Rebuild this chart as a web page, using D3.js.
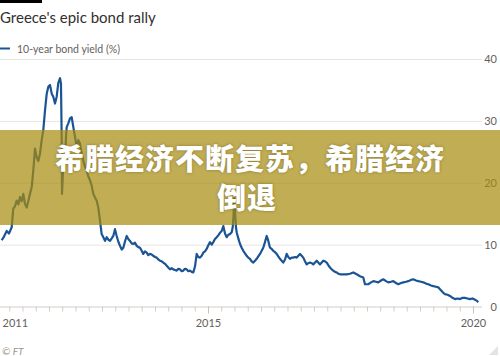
<!DOCTYPE html>
<html>
<head>
<meta charset="utf-8">
<script src="https://cdn.jsdelivr.net/npm/d3@7"></script>
<style>
  html, body { margin: 0; padding: 0; background: #fff; }
  svg { display: block; }
</style>
</head>
<body>
<svg id="chart" width="500" height="356"></svg>
<script>
// ---- data ----
const titleText = "Greece's epic bond rally";
const legendText = "10-year bond yield (%)";
const sourceText = "\u00A9 FT";
const bannerLines = ["希腊经济不断复苏，希腊经济", "倒退"];

const yTicks = [0, 10, 20, 30, 40];
const xLabelYears = [2011, 2015, 2020];

// decimal-year dates of the 10-year yield series
const dates = [
2011.108,2011.151,2011.202,2011.245,2011.296,2011.326,2011.358,2011.391,2011.421,2011.453,
2011.485,2011.515,2011.547,2011.579,2011.609,2011.641,2011.674,2011.704,2011.736,2011.768,
2011.798,2011.830,2011.862,2011.892,2011.925,2011.957,2011.987,2012.019,2012.051,2012.081,
2012.113,2012.145,2012.175,2012.208,2012.226,2012.240,2012.245,2012.258,2012.273,2012.302,
2012.321,2012.334,2012.364,2012.396,2012.428,2012.459,2012.491,2012.523,2012.553,2012.585,
2012.617,2012.647,2012.679,2012.711,2012.742,2012.774,2012.806,2012.836,2012.868,2012.900,
2012.930,2012.962,2012.994,2013.025,2013.057,2013.089,2013.119,2013.151,2013.183,2013.213,
2013.245,2013.277,2013.307,2013.340,2013.372,2013.402,2013.434,2013.466,2013.496,2013.528,
2013.560,2013.590,2013.623,2013.655,2013.685,2013.717,2013.749,2013.779,2013.811,2013.843,
2013.873,2013.906,2013.938,2013.968,2014.000,2014.032,2014.062,2014.094,2014.126,2014.157,
2014.189,2014.221,2014.251,2014.283,2014.315,2014.345,2014.377,2014.409,2014.440,2014.472,
2014.504,2014.534,2014.566,2014.598,2014.628,2014.660,2014.692,2014.723,2014.755,2014.787,
2014.817,2014.849,2014.881,2014.911,2014.943,2014.975,2015.006,2015.038,2015.070,2015.100,
2015.132,2015.164,2015.194,2015.226,2015.258,2015.289,2015.321,2015.353,2015.383,2015.415,
2015.447,2015.466,2015.481,2015.496,2015.509,2015.528,2015.541,2015.572,2015.604,2015.636,
2015.666,2015.698,2015.730,2015.760,2015.792,2015.824,2015.855,2015.887,2015.919,2015.949,
2015.981,2016.013,2016.043,2016.075,2016.107,2016.138,2016.170,2016.202,2016.232,2016.264,
2016.296,2016.326,2016.358,2016.390,2016.421,2016.453,2016.485,2016.515,2016.547,2016.579,
2016.609,2016.642,2016.674,2016.704,2016.736,2016.768,2016.798,2016.830,2016.862,2016.892,
2016.924,2016.957,2016.987,2017.019,2017.051,2017.081,2017.113,2017.145,2017.175,2017.207,
2017.240,2017.270,2017.302,2017.334,2017.364,2017.396,2017.428,2017.458,2017.491,2017.553,
2017.617,2017.679,2017.741,2017.806,2017.868,2017.930,2017.962,2018.024,2018.076,2018.119,
2018.170,2018.213,2018.264,2018.308,2018.359,2018.402,2018.453,2018.496,2018.547,2018.591,
2018.642,2018.685,2018.736,2018.781,2018.830,2018.874,2018.925,2018.968,2019.019,2019.062,
2019.113,2019.157,2019.208,2019.251,2019.302,2019.345,2019.377,2019.409,2019.440,2019.472,
2019.519,2019.566,2019.613,2019.660,2019.708,2019.755,2019.802,2019.849,2019.896,2019.943,
2019.991,2020.038,2020.075,2020.100
];
const yields = [
10.7,11.3,12.2,11.8,12.8,15.8,16.2,17.1,16.5,17.7,
17.0,18.2,16.6,16.0,17.0,18.2,19.3,22.0,25.5,24.1,
23.5,24.7,26.9,28.5,31.7,34.4,35.5,35.8,34.4,33.9,
32.8,33.9,36.1,36.9,36.0,26.9,18.2,20.7,23.6,23.1,
27.5,29.0,29.6,30.4,30.6,29.0,27.4,25.8,26.9,26.3,
24.7,23.6,22.6,22.0,21.0,20.4,19.5,18.2,17.6,17.1,
16.0,13.9,11.7,11.2,10.6,11.2,10.8,10.6,11.0,11.4,
12.5,11.4,10.5,9.8,9.2,9.5,10.5,11.4,10.9,10.6,
10.2,10.1,10.3,9.8,9.6,9.5,9.0,8.5,8.9,8.7,
8.3,8.5,8.4,8.2,8.0,7.9,7.6,7.4,7.3,7.1,
6.9,6.6,6.3,6.0,6.2,6.0,5.9,5.8,6.1,6.0,
5.7,5.8,6.1,6.0,5.7,5.8,5.6,5.5,6.5,8.5,
8.0,7.9,8.2,8.7,8.9,9.3,9.9,10.4,10.0,10.4,
10.9,11.2,11.5,11.9,12.2,13.0,11.8,11.2,11.6,11.7,
12.0,12.8,14.5,17.5,15.5,12.8,12.0,11.0,10.1,9.5,
9.0,8.6,8.2,7.9,7.7,7.3,7.1,7.4,7.7,8.1,
8.5,9.0,9.5,10.4,11.4,10.6,9.5,9.3,9.0,8.8,
8.5,8.1,7.7,7.4,7.1,7.6,8.5,8.0,7.7,7.9,
7.9,8.0,7.9,8.2,8.5,8.2,7.9,7.3,6.8,7.0,
7.1,7.0,6.8,7.1,7.4,7.1,6.8,7.1,7.4,7.3,
7.1,6.7,6.3,6.0,5.8,5.6,5.5,5.3,5.2,5.2,
5.2,5.3,5.5,5.2,4.9,4.7,3.6,3.6,3.9,4.1,
4.0,3.9,4.2,4.4,4.1,3.9,4.0,4.1,3.8,3.6,
3.8,3.9,4.0,4.1,4.3,4.4,4.2,4.1,4.0,3.9,
3.7,3.6,3.4,3.3,3.2,3.1,2.8,2.5,2.2,2.0,
1.9,1.7,1.4,1.2,1.3,1.2,1.4,1.4,1.3,1.2,
1.3,1.1,0.9,0.7
];

// ---- drawing ----
const svg = d3.select("#chart");
const W = 500, H = 356;
const plotRight = 482;

const x = d3.scaleLinear().domain([2011, 2020.17]).range([-4, plotRight]);
const y = d3.scaleLinear().domain([0, 40]).range([306.5, 59]);

const series = dates.map((d, i) => ({ t: d, v: yields[i] }));

// top black bar
svg.append("rect").attr("x", 0).attr("y", 0).attr("width", 42).attr("height", 3).attr("fill", "#000");

// title
svg.append("text")
  .attr("x", 0).attr("y", 23)
  .attr("font-family", "Lato, 'Open Sans', sans-serif")
  .attr("font-size", 15)
  .attr("fill", "#33302e")
  .text(titleText);

// legend
svg.append("line")
  .attr("x1", 0).attr("x2", 10).attr("y1", 48.5).attr("y2", 48.5)
  .attr("stroke", "#1a5494").attr("stroke-width", 2);
svg.append("text")
  .attr("x", 17).attr("y", 52.5)
  .attr("font-family", "Lato, 'Open Sans', sans-serif")
  .attr("font-size", 10.5)
  .attr("fill", "#66605c")
  .text(legendText);

// grid + right y labels
const yAxis = d3.axisRight(y).tickValues(yTicks).tickSize(plotRight).tickFormat(d3.format("d"));
const gy = svg.append("g").call(yAxis);
gy.select(".domain").remove();
gy.selectAll(".tick line").attr("stroke", "#e7e3df").attr("stroke-width", 1)
  .filter(d => d === 0).attr("stroke", "none");
gy.selectAll(".tick text")
  .attr("x", 497).attr("text-anchor", "end")
  .attr("font-family", "Lato, 'Open Sans', sans-serif")
  .attr("font-size", 11).attr("fill", "#66605c");

// x axis: quarterly minor ticks
const quarters = d3.range(2011, 2020.2, 0.25);
const xMinor = d3.axisBottom(x).tickValues(quarters).tickSize(5).tickFormat("");
const gxm = svg.append("g").attr("transform", "translate(0,306.5)").call(xMinor);
gxm.select(".domain").attr("stroke", "#d2ccc6").attr("d", `M0,0.5H${plotRight}`);
gxm.selectAll(".tick line").attr("stroke", "#d2ccc6");

const xMajor = d3.axisBottom(x).tickValues(xLabelYears).tickSize(7).tickPadding(6).tickFormat(d3.format("d"));
const gx = svg.append("g").attr("transform", "translate(0,306.5)").call(xMajor);
gx.select(".domain").remove();
gx.selectAll(".tick line").attr("stroke", "#c9c2bb");
gx.selectAll(".tick text")
  .attr("font-family", "Lato, 'Open Sans', sans-serif")
  .attr("font-size", 11).attr("fill", "#66605c")
  .filter(d => d === 2011).attr("text-anchor", "start").attr("x", 6);

// line
const line = d3.line().x(d => x(d.t)).y(d => y(d.v)).curve(d3.curveLinear);
svg.append("path")
  .datum(series)
  .attr("fill", "none")
  .attr("stroke", "#1a5494")
  .attr("stroke-width", 2.2)
  .attr("stroke-linejoin", "round")
  .attr("d", line);

// source
svg.append("text")
  .attr("x", 2).attr("y", 355)
  .attr("font-family", "Lato, 'Open Sans', sans-serif")
  .attr("font-size", 10).attr("font-style", "italic")
  .attr("fill", "#9a948e")
  .text(sourceText);

// corner grip
svg.append("path").attr("d", "M498,346 L498,355 L489,355 Z").attr("fill", "#e4e4e4");

// overlay banner
svg.append("rect")
  .attr("x", 0).attr("y", 130).attr("width", W).attr("height", 95)
  .attr("fill", "rgb(168,139,14)").attr("fill-opacity", 0.71);

const bt = svg.append("g")
  .attr("font-family", "'Noto Sans CJK SC', sans-serif")
  .attr("font-weight", 900)
  .attr("font-size", 29)
  .attr("fill", "#fff")
  .attr("text-anchor", "middle")
  .style("text-shadow", "0 0 3px rgba(60,50,0,0.45)");
bt.append("text").attr("x", 250).attr("y", 170).attr("letter-spacing", 1).text(bannerLines[0]);
bt.append("text").attr("x", 247).attr("y", 209).attr("letter-spacing", 1).text(bannerLines[1]);
</script>
</body>
</html>
